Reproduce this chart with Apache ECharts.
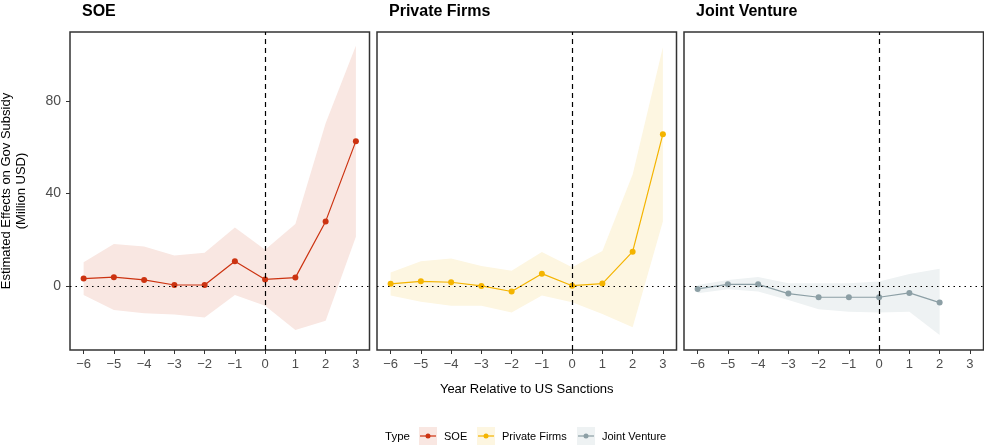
<!DOCTYPE html>
<html>
<head>
<meta charset="utf-8">
<script src="https://cdn.jsdelivr.net/npm/echarts@6/dist/echarts.min.js"></script>
<style>
  html, body { margin: 0; padding: 0; background: #fff; }
  #chart { width: 984px; height: 447px; }
</style>
</head>
<body>
<div id="chart"></div>
<script>
// Event-study estimates by ownership type (point estimate + 95% CI)
const years = [-6, -5, -4, -3, -2, -1, 0, 1, 2, 3];
const soeEst  = [3.2, 3.8, 2.6, 0.4, 0.4, 10.7, 2.8, 3.6, 27.9, 62.6];
const soeLow  = [-3.9, -10.4, -11.8, -12.4, -13.7, -3.9, -8.6, -19.0, -15.0, 21.3];
const soeHigh = [10.2, 18.1, 17.0, 13.2, 14.4, 25.3, 15.6, 26.8, 70.3, 103.9];

const pvtEst  = [0.9, 2.0, 1.6, 0.0, -2.4, 5.3, 0.1, 1.0, 14.8, 65.6];
const pvtLow  = [-4.1, -6.8, -8.6, -8.6, -11.5, -4.1, -7.1, -12.1, -17.9, 27.9];
const pvtHigh = [5.8, 10.7, 11.9, 8.6, 6.6, 14.7, 8.1, 15.1, 48.2, 103.2];

const jvYears = [-6, -5, -4, -3, -2, -1, 0, 1, 2];
const jvEst   = [-1.3, 0.7, 0.7, -3.3, -4.9, -4.9, -4.9, -3.0, -7.2];
const jvLow   = [-3.2, -1.4, -2.4, -6.1, -10.1, -11.2, -11.5, -11.2, -21.2];
const jvHigh  = [0.4, 2.6, 3.9, 1.2, 1.2, 1.2, 1.9, 5.2, 7.4];

const xTicks = [-6, -5, -4, -3, -2, -1, 0, 1, 2, 3];
const yTicks = [0, 40, 80];

const panelTitles = ['SOE', 'Private Firms', 'Joint Venture'];

const FONT = '"Liberation Sans", Arial, sans-serif';
const panels = [
  { x: years, est: soeEst, low: soeLow, high: soeHigh, line: '#cc3311', fill: '#f9e7e2' },
  { x: years, est: pvtEst, low: pvtLow, high: pvtHigh, line: '#f4b400', fill: '#fdf6e1' },
  { x: jvYears, est: jvEst, low: jvLow, high: jvHigh, line: '#8c9fa5', fill: '#eef2f3' }
];

const gridLefts = [70, 377, 684];
const GRID_W = 299.5, GRID_TOP = 32, GRID_H = 318;

const grids = gridLefts.map(l => ({
  left: l, top: GRID_TOP, width: GRID_W, height: GRID_H,
  show: true, borderColor: '#333', borderWidth: 1.5, backgroundColor: 'transparent',
  containLabel: false, outerBoundsMode: 'none'
}));

const xAxes = gridLefts.map((l, i) => ({
  type: 'value', gridIndex: i, min: -6.45, max: 3.45,
  axisLine: { show: false, onZero: false },
  axisTick: { show: true, customValues: xTicks, length: 4, lineStyle: { color: '#333', width: 1 } },
  axisLabel: { customValues: xTicks, color: '#4d4d4d', fontSize: 13, fontFamily: FONT, margin: 8,
               formatter: v => (v < 0 ? '\u2212' + Math.abs(v) : String(v)) },
  splitLine: { show: false },
  name: i === 1 ? 'Year Relative to US Sanctions' : '',
  nameLocation: 'middle', nameGap: 33,
  nameTextStyle: { color: '#000', fontSize: 13, fontFamily: FONT }
}));

const yAxes = gridLefts.map((l, i) => ({
  type: 'value', gridIndex: i, min: -27.7, max: 109.8,
  axisLine: { show: false, onZero: false },
  axisTick: { show: i === 0, customValues: yTicks, length: 4, lineStyle: { color: '#333', width: 1 } },
  axisLabel: { show: i === 0, customValues: yTicks, color: '#4d4d4d', fontSize: 14, fontFamily: FONT, margin: 9 },
  splitLine: { show: false },
  name: i === 0 ? 'Estimated Effects on Gov Subsidy\n(Million USD)' : '',
  nameLocation: 'middle', nameGap: 41, nameRotate: 90,
  nameTextStyle: { color: '#000', fontSize: 13, fontFamily: FONT, lineHeight: 15, align: 'center' }
}));

const series = [];
panels.forEach((p, i) => {
  // confidence band as a polygon built from the axis scales
  series.push({
    type: 'custom', xAxisIndex: i, yAxisIndex: i, silent: true, z: 1,
    data: [0],
    renderItem: (params, api) => {
      const pts = [];
      for (let k = 0; k < p.x.length; k++) pts.push(api.coord([p.x[k], p.high[k]]));
      for (let k = p.x.length - 1; k >= 0; k--) pts.push(api.coord([p.x[k], p.low[k]]));
      return { type: 'polygon', shape: { points: pts }, style: { fill: p.fill } };
    }
  });
  series.push({
    type: 'line', xAxisIndex: i, yAxisIndex: i, z: 3,
    data: p.x.map((x, k) => [x, p.est[k]]),
    symbol: 'circle', symbolSize: 6, showSymbol: true,
    lineStyle: { color: p.line, width: 1.2 },
    itemStyle: { color: p.line },
    animation: false,
    markLine: {
      silent: true, symbol: 'none', label: { show: false }, animation: false,
      data: [
        { yAxis: 0, lineStyle: { type: [1.5, 4], color: '#000', width: 1.2 } },
        { xAxis: 0, lineStyle: { type: [5, 4], color: '#000', width: 1.2 } }
      ]
    }
  });
});

// legend drawn as ggplot-style keys
const legendItems = [
  { label: 'SOE', x: 419, textX: 444, line: '#cc3311', fill: '#f9e7e2' },
  { label: 'Private Firms', x: 477, textX: 502, line: '#f4b400', fill: '#fdf6e1' },
  { label: 'Joint Venture', x: 577, textX: 602, line: '#8c9fa5', fill: '#eef2f3' }
];
const graphics = [];
panelTitles.forEach((t, i) => {
  graphics.push({ type: 'text', left: gridLefts[i] + 12, top: 4,
    style: { text: t, font: 'bold 16px ' + FONT, fill: '#000' } });
});
graphics.push({ type: 'text', left: 385, top: 431, style: { text: 'Type', font: '11.5px ' + FONT, fill: '#000' } });
legendItems.forEach(it => {
  graphics.push({ type: 'rect', shape: { x: it.x, y: 427, width: 18, height: 18 }, style: { fill: it.fill } });
  graphics.push({ type: 'line', shape: { x1: it.x + 1, y1: 436, x2: it.x + 17, y2: 436 }, style: { stroke: it.line, lineWidth: 1.2 } });
  graphics.push({ type: 'circle', shape: { cx: it.x + 9, cy: 436, r: 2.5 }, style: { fill: it.line } });
  graphics.push({ type: 'text', left: it.textX, top: 431, style: { text: it.label, font: '11px ' + FONT, fill: '#000' } });
});

const chart = echarts.init(document.getElementById('chart'), null, { renderer: 'canvas' });
chart.setOption({
  animation: false,
  backgroundColor: '#fff',
  grid: grids,
  xAxis: xAxes,
  yAxis: yAxes,
  series: series,
  graphic: graphics
});
</script>
</body>
</html>
